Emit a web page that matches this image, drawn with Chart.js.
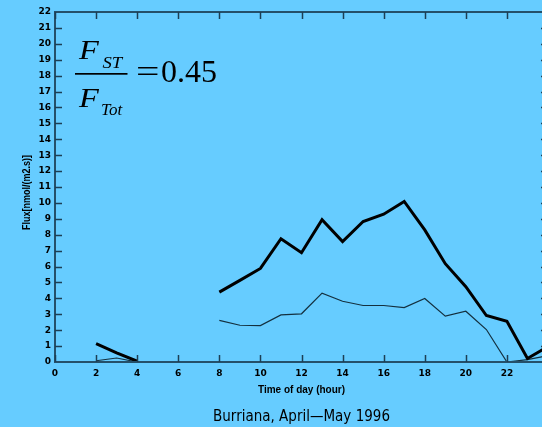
<!DOCTYPE html>
<html>
<head>
<meta charset="utf-8">
<script src="https://cdn.jsdelivr.net/npm/chart.js@4.4.1/dist/chart.umd.min.js"></script>
<style>
  html, body { margin: 0; padding: 0; overflow: hidden; background: #66ccff; }
  #wrap { position: relative; width: 560px; height: 427px; }
</style>
</head>
<body>
<div id="wrap"><canvas id="c" width="560" height="427"></canvas></div>
<script>
// Hourly ozone flux at Burriana (hours with no measurement are null)
const hours = [2, 3, 4, 5, 6, 7, 8, 9, 10, 11, 12, 13, 14, 15, 16, 17, 18, 19, 20, 21, 22, 23, 24];
const totalFlux = [1.15, 0.58, 0.05, null, null, null, 4.39, 5.13, 5.88, 7.75, 6.87, 8.95, 7.57, 8.83, 9.29, 10.09, 8.30, 6.18, 4.73, 2.92, 2.56, 0.22, 0.97];
const stomatalFlux = [0.08, 0.25, 0.0, null, null, null, 2.62, 2.31, 2.29, 2.96, 3.03, 4.33, 3.82, 3.55, 3.55, 3.42, 3.99, 2.88, 3.19, 2.04, 0.0, 0.15, 0.4];
const xTicks = [0, 2, 4, 6, 8, 10, 12, 14, 16, 18, 20, 22];
const yMax = 22;
const fluxRatio = '0.45';
const xTitle = 'Time of day (hour)';
const yTitle = 'Flux[nmol/(m2.s)]';
const caption = 'Burriana, April\u2014May 1996';

const toPoints = vals => hours.map((h, i) => ({ x: h, y: vals[i] }));

const AXIS = '#24506a';

// Closed frame with inward-pointing tick marks on all four sides
const framePlugin = {
  id: 'frame',
  afterDatasetsDraw(chart) {
    const { ctx, chartArea: a, scales: { x, y } } = chart;
    ctx.save();
    ctx.strokeStyle = AXIS;
    ctx.lineWidth = 2;
    ctx.strokeRect(a.left, a.top, a.right - a.left, a.bottom - a.top);
    ctx.lineWidth = 1.5;
    ctx.strokeStyle = '#1c3f55';
    ctx.beginPath();
    for (const t of xTicks) {
      const px = Math.round(x.getPixelForValue(t)) + 0.5;
      ctx.moveTo(px, a.bottom); ctx.lineTo(px, a.bottom - 7);
      ctx.moveTo(px, a.top); ctx.lineTo(px, a.top + 7);
    }
    for (let v = 1; v < yMax; v++) {
      const py = Math.round(y.getPixelForValue(v)) + 0.5;
      ctx.moveTo(a.left, py); ctx.lineTo(a.left + 7, py);
      ctx.moveTo(a.right, py); ctx.lineTo(a.right - 7, py);
    }
    ctx.stroke();
    ctx.restore();
  }
};

// Draws a glyph stretched horizontally by sx
function wideText(ctx, text, x, y, sx) {
  ctx.save();
  ctx.translate(x, y);
  ctx.scale(sx, 1);
  ctx.fillText(text, 0, 0);
  ctx.restore();
}

// Axis titles, caption and the flux-ratio formula
const textPlugin = {
  id: 'texts',
  afterDraw(chart) {
    const { ctx } = chart;
    ctx.save();
    ctx.fillStyle = '#000';
    ctx.textAlign = 'center';
    ctx.textBaseline = 'alphabetic';

    ctx.font = 'bold 10px "Liberation Sans"';
    ctx.fillText(xTitle, 301.5, 392.5, 90);

    ctx.font = '15px "DejaVu Sans"';
    ctx.fillText(caption, 301.5, 420.5, 177);

    ctx.save();
    ctx.translate(30, 192.5);
    ctx.rotate(-Math.PI / 2);
    ctx.font = 'bold 10px "Liberation Sans"';
    ctx.fillText(yTitle, 0, 0, 75);
    ctx.restore();

    // F_ST / F_Tot = 0.45
    ctx.textAlign = 'left';
    ctx.font = 'italic 27px "Liberation Serif"';
    wideText(ctx, 'F', 79, 59, 1.2);
    wideText(ctx, 'F', 79, 106.5, 1.2);
    ctx.font = 'italic 17px "Liberation Serif"';
    wideText(ctx, 'ST', 102.5, 68, 1.1);
    wideText(ctx, 'Tot', 101, 115, 1.0);
    ctx.fillRect(75, 73, 52.5, 1.7);
    ctx.font = '32px "Liberation Serif"';
    wideText(ctx, '=', 136, 82, 1.3);
    ctx.fillText(fluxRatio, 161, 81.5);
    ctx.restore();
  }
};

const tickFont = { family: '"DejaVu Sans"', size: 9, weight: 'bold' };

new Chart(document.getElementById('c'), {
  type: 'line',
  data: {
    datasets: [
      {
        label: 'Total flux',
        data: toPoints(totalFlux),
        borderColor: '#000000',
        borderWidth: 3,
        pointRadius: 0,
        tension: 0,
        spanGaps: false
      },
      {
        label: 'Stomatal flux',
        data: toPoints(stomatalFlux),
        borderColor: '#14303f',
        borderWidth: 1.2,
        pointRadius: 0,
        tension: 0,
        spanGaps: false
      }
    ]
  },
  options: {
    responsive: false,
    animation: false,
    layout: { padding: { left: 0, right: 12, top: 12, bottom: 0 } },
    plugins: { legend: { display: false }, tooltip: { enabled: false }, title: { display: false } },
    scales: {
      x: {
        type: 'linear',
        min: 0,
        max: 24,
        afterFit: s => { s.height = 65; },
        afterBuildTicks: s => { s.ticks = xTicks.map(v => ({ value: v })); },
        grid: { display: false, drawTicks: false, tickLength: 0 },
        border: { display: false },
        ticks: { font: tickFont, color: '#000', padding: 6, maxRotation: 0, autoSkip: false }
      },
      y: {
        min: 0,
        max: yMax,
        afterFit: s => { s.width = 55; },
        grid: { display: false, drawTicks: false, tickLength: 0 },
        border: { display: false },
        ticks: { font: tickFont, color: '#000', padding: 4, stepSize: 1, autoSkip: false }
      }
    }
  },
  plugins: [framePlugin, textPlugin]
});
</script>
</body>
</html>
